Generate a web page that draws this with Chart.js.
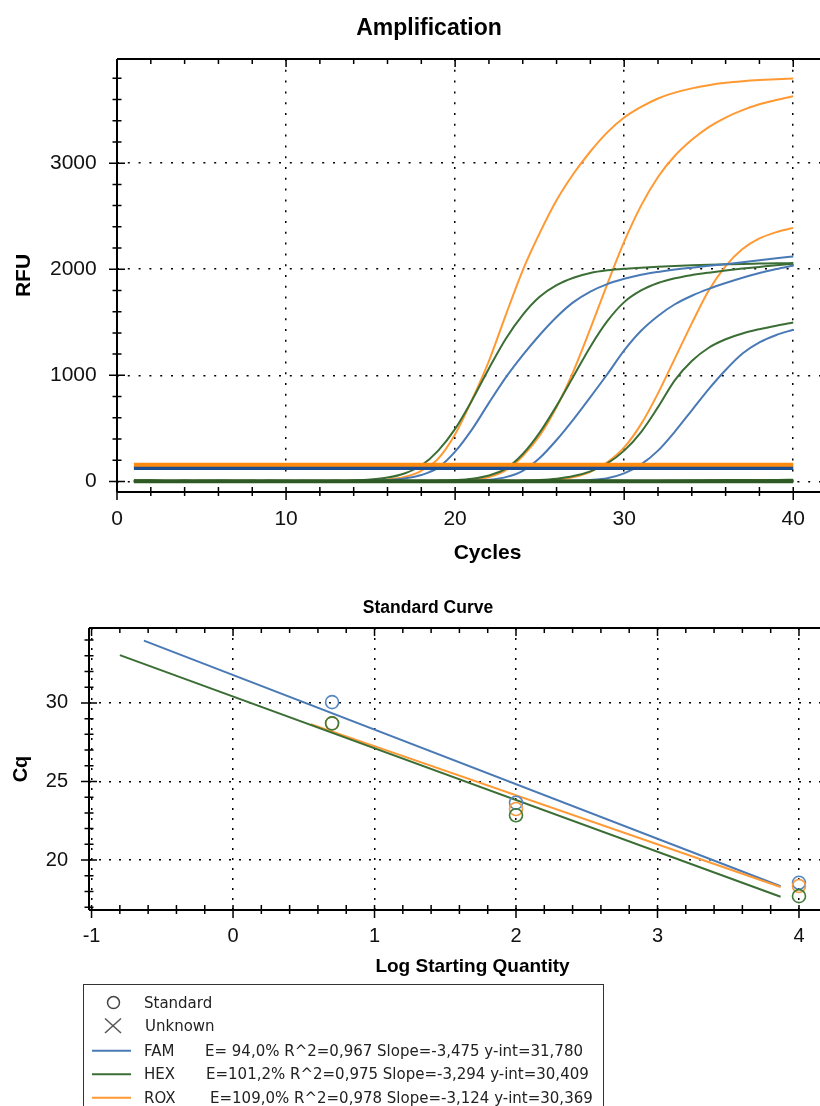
<!DOCTYPE html>
<html>
<head>
<meta charset="utf-8">
<title>Amplification / Standard Curve</title>
<script src="https://cdn.jsdelivr.net/npm/chart.js@4.4.0/dist/chart.umd.min.js"></script>
<style>
  html, body { margin: 0; padding: 0; background: #fff; overflow: hidden; }
  body { width: 820px; height: 1106px; position: relative; }
  #ampChart { position: absolute; left: 0; top: 0; }
  #stdChart { position: absolute; left: 0; top: 580px; }
  #legendBox { position: absolute; left: 83px; top: 984px; width: 521px; height: 150px;
               border: 1.5px solid #333; box-sizing: border-box; }
  .lg { position: absolute; font-family: "DejaVu Sans", Verdana, sans-serif; font-size: 15px;
        line-height: 20px; color: #222; white-space: nowrap; }
  #legendMarks { position: absolute; left: 0; top: 0; }
</style>
</head>
<body>
<canvas id="ampChart" width="858" height="580"></canvas>
<canvas id="stdChart" width="856" height="405"></canvas>

<div id="legendBox"></div>
<svg id="legendMarks" width="820" height="1106">
  <circle cx="113.5" cy="1002.6" r="6" fill="none" stroke="#444" stroke-width="1.5"/>
  <line x1="105" y1="1018.5" x2="121" y2="1033" stroke="#555" stroke-width="1.5"/>
  <line x1="121" y1="1018.5" x2="105" y2="1033" stroke="#555" stroke-width="1.5"/>
  <line x1="92" y1="1050.8" x2="131" y2="1050.8" stroke="#4a7ab5" stroke-width="2"/>
  <line x1="92" y1="1074.3" x2="131" y2="1074.3" stroke="#3b6e35" stroke-width="2"/>
  <line x1="92" y1="1097.8" x2="131" y2="1097.8" stroke="#ff9933" stroke-width="2"/>
</svg>
<span class="lg" style="left:144px; top:993px">Standard</span>
<span class="lg" style="left:145px; top:1016px">Unknown</span>
<span class="lg" style="left:144px; top:1041px">FAM</span>
<span class="lg" style="left:205px; top:1041px">E= 94,0% R^2=0,967 Slope=-3,475 y-int=31,780</span>
<span class="lg" style="left:144px; top:1064px">HEX</span>
<span class="lg" style="left:206px; top:1064px">E=101,2% R^2=0,975 Slope=-3,294 y-int=30,409</span>
<span class="lg" style="left:144px; top:1088px">ROX</span>
<span class="lg" style="left:210px; top:1088px">E=109,0% R^2=0,978 Slope=-3,124 y-int=30,369</span>

<script>
// ---- amplification data (RFU per cycle 1..40) ----
const cycles = Array.from({ length: 40 }, (_, i) => i + 1);

const rox1 = [6, 3, -2, 4, 1, -3, 2, 5, 0, -2, 3, 1, 2, 4, 8, 18, 42, 100, 215, 445,
  770, 1135, 1570, 1990, 2340, 2650, 2900, 3110, 3290, 3430, 3530, 3610, 3665, 3705, 3735, 3757, 3772, 3783, 3791, 3797];
const rox2 = [4, 1, -3, 2, 5, 0, -2, 3, 1, -1, 4, 2, 0, 3, 1, -2, 2, 4, 3, 7,
  16, 40, 105, 240, 430, 700, 1040, 1440, 1860, 2260, 2600, 2870, 3070, 3220, 3340, 3430, 3500, 3555, 3595, 3630];
const rox3 = [2, 5, 1, -2, 3, 0, 4, -1, 2, 3, -3, 1, 5, 2, 0, 3, -2, 1, 4, 2,
  0, 3, 5, 4, 7, 16, 40, 90, 180, 320, 540, 830, 1160, 1490, 1800, 2030, 2190, 2290, 2350, 2390];

const hex1 = [8, 5, 2, 6, 3, 0, 4, 7, 2, -1, 3, 5, 4, 8, 17, 36, 75, 150, 290, 495,
  765, 1065, 1345, 1570, 1740, 1850, 1920, 1965, 1990, 2005, 2015, 2024, 2031, 2037, 2042, 2046, 2050, 2053, 2056, 2058];
const hex2 = [5, 8, 3, 1, 6, 4, -1, 2, 5, 3, 0, 4, 6, 2, 3, 5, 1, 4, 7, 13,
  26, 56, 120, 258, 460, 712, 990, 1270, 1510, 1690, 1800, 1870, 1915, 1945, 1968, 1988, 2006, 2022, 2038, 2052];
const hex3 = [3, 6, 2, 4, 0, 5, 3, 1, 4, 6, 2, 3, -1, 4, 5, 2, 3, 6, 4, 1,
  3, 5, 4, 7, 13, 26, 50, 95, 170, 290, 465, 700, 955, 1135, 1260, 1340, 1395, 1435, 1468, 1497];

const fam1 = [2, -1, 3, 0, -3, 1, 4, 2, -2, 0, 3, 1, -1, 2, 6, 13, 28, 60, 130, 280,
  490, 740, 980, 1190, 1380, 1550, 1690, 1790, 1860, 1910, 1948, 1975, 1997, 2015, 2032, 2048, 2066, 2085, 2103, 2120];
const fam2 = [1, 3, -2, 0, 2, -1, 4, 1, -3, 2, 0, 3, 1, -2, 2, 0, 3, 1, 2, 3,
  6, 15, 40, 100, 220, 390, 585, 795, 1010, 1235, 1420, 1560, 1670, 1750, 1815, 1870, 1920, 1965, 2002, 2035];
const fam3 = [0, 2, -2, 3, 1, -1, 2, 0, 3, -2, 1, 2, 0, -1, 3, 1, 2, -2, 0, 3,
  1, 2, 0, 3, 2, 3, 6, 13, 30, 75, 160, 290, 470, 670, 870, 1050, 1205, 1310, 1380, 1430];

// no-template controls
const hexNtc = [6, 4, 2, 5, 3, 7, 4, 2, 5, 3, 6, 4, 2, 5, 3, 4, 6, 3, 2, 5,
  4, 3, 6, 4, 2, 5, 3, 4, 6, 5, 3, 4, 6, 8, 10, 12, 13, 14, 14, 15];
const famNtc = [-2, 0, 1, -1, 2, 0, -3, 1, 2, -1, 0, 1, -2, 0, 2, 1, -1, 0, 1, 2,
  0, -1, 1, 2, 0, 1, -1, 0, 2, 1, 0, 1, 2, 1, 0, 2, 1, 3, 2, 3];
const roxNtc = [3, 1, 4, 2, 0, 3, 5, 2, 1, 3, 4, 2, 0, 3, 2, 4, 1, 3, 2, 0,
  3, 4, 2, 1, 3, 2, 4, 3, 1, 2, 4, 3, 2, 3, 4, 2, 3, 5, 4, 3];

const roxThreshold = 158;
const famThreshold = 126;
const hexThreshold = 1;

const ampCycleLabels = [0, 10, 20, 30, 40];
const ampRfuLabels = [0, 1000, 2000, 3000];

// ---- standard curve data ----
const logQty = [0.7, 2, 4];
const famCq = [30.05, 23.65, 18.55];
const hexCq = [28.7, 22.85, 17.7];
const roxCq = [28.7, 23.25, 18.35];
const famFitX = [-0.63, 3.87];
const famFitY = [33.97, 18.33];
const hexFitX = [-0.8, 3.87];
const hexFitY = [33.04, 17.66];
const roxFitX = [0.55, 3.87];
const roxFitY = [28.65, 18.28];
const stdLogLabels = [-1, 0, 1, 2, 3, 4];
const stdCqLabels = [20, 25, 30];

const ORANGE = '#ff9933', BLUE = '#4a7ab5', GREEN = '#3b6e35';

Chart.defaults.font.family = '"Liberation Sans", Arial, sans-serif';
Chart.defaults.color = '#111';

const pts = (xs, ys) => xs.map((x, i) => ({ x: x, y: ys[i] }));
const flat = (y) => [{ x: cycles[0], y: y }, { x: cycles[cycles.length - 1], y: y }];

// axis lines + crossing tick marks, like the instrument software draws them
const axisFrame = {
  id: 'axisFrame',
  afterDraw(chart, args, opts) {
    const { ctx, chartArea: a } = chart;
    const xs = chart.scales.x, ys = chart.scales.y;
    ctx.save();
    ctx.strokeStyle = '#000';
    ctx.lineWidth = 2;
    ctx.beginPath();
    ctx.moveTo(a.left, a.top); ctx.lineTo(a.right, a.top);
    ctx.moveTo(a.left, a.top); ctx.lineTo(a.left, a.bottom);
    ctx.moveTo(a.left, a.bottom); ctx.lineTo(a.right, a.bottom);
    ctx.stroke();
    ctx.lineWidth = 1.5;
    ctx.beginPath();
    opts.xTicks.forEach(t => {
      const px = xs.getPixelForValue(t.v);
      ctx.moveTo(px, a.bottom - 5);
      ctx.lineTo(px, a.bottom + (t.major ? 8 : 4));
      ctx.moveTo(px, a.top);
      ctx.lineTo(px, a.top + (t.major ? 8 : 5));
    });
    opts.yTicks.forEach(t => {
      const py = ys.getPixelForValue(t.v);
      const len = t.major ? 8 : 4.5;
      ctx.moveTo(a.left - len, py);
      ctx.lineTo(a.left + len, py);
    });
    ctx.stroke();
    ctx.restore();
  }
};

const ampXTicks = [], ampYTicks = [], stdXTicks = [], stdYTicks = [];
for (let c = 0; c <= 42; c += 2) ampXTicks.push({ v: c, major: c % 10 === 0 });
for (let v = 0; v <= 3800; v += 200) ampYTicks.push({ v: v, major: v % 1000 === 0 });
for (let i = -5; i <= 22; i++) stdXTicks.push({ v: i / 5, major: i % 5 === 0 });
for (let v = 17; v <= 34; v++) stdYTicks.push({ v: v, major: v % 5 === 0 });

const dotted = { color: '#000', lineWidth: 1.5, drawTicks: false };

function curve(values, color) {
  return { data: pts(cycles, values), borderColor: color, borderWidth: 2, pointRadius: 0,
           cubicInterpolationMode: 'monotone', order: 2 };
}
function threshold(y, color) {
  return { data: flat(y), borderColor: color, borderWidth: 4, pointRadius: 0, order: 0 };
}

new Chart(document.getElementById('ampChart'), {
  type: 'line',
  data: {
    datasets: [
      threshold(roxThreshold, '#ff8a10'),
      threshold(famThreshold, '#1d4f90'),
      threshold(hexThreshold, '#2c5a22'),
      curve(famNtc, BLUE), curve(roxNtc, ORANGE), curve(hexNtc, GREEN),
      curve(fam1, BLUE), curve(fam2, BLUE), curve(fam3, BLUE),
      curve(hex1, GREEN), curve(hex2, GREEN), curve(hex3, GREEN),
      curve(rox1, ORANGE), curve(rox2, ORANGE), curve(rox3, ORANGE)
    ]
  },
  options: {
    responsive: false,
    animation: false,
    events: [],
    layout: { padding: 0, autoPadding: false },
    plugins: {
      legend: { display: false },
      tooltip: { enabled: false },
      title: { display: true, text: 'Amplification', color: '#000',
               font: { size: 23, weight: 'bold' }, padding: { top: 14.9, bottom: 16.5 } },
      axisFrame: { xTicks: ampXTicks, yTicks: ampYTicks }
    },
    scales: {
      x: {
        type: 'linear', min: 0, max: 43.83,
        afterBuildTicks: s => { s.ticks = ampCycleLabels.map(v => ({ value: v })); },
        afterFit: s => { s.height = 88; },
        grid: dotted,
        border: { display: false, dash: [2, 8.8] },
        ticks: { autoSkip: false, maxRotation: 0, padding: 14.9, font: { size: 21 }, callback: v => String(v) },
        title: { display: true, text: 'Cycles', color: '#000', font: { size: 21, weight: 'bold' },
                 padding: { top: 0, bottom: 14.5 } }
      },
      y: {
        type: 'linear', min: -100, max: 3982,
        afterBuildTicks: s => { s.ticks = ampRfuLabels.map(v => ({ value: v })); },
        afterFit: s => { s.width = 117; },
        grid: dotted,
        border: { display: false, dash: [2, 8.8] },
        ticks: { autoSkip: false, padding: 20.3, font: { size: 21 }, callback: v => String(v) },
        title: { display: true, text: 'RFU', color: '#000', font: { size: 21, weight: 'bold' },
                 padding: { top: 11.2, bottom: 0 } }
      }
    }
  },
  plugins: [axisFrame]
});

function fitLine(xs, ys, color, order) {
  return { data: pts(xs, ys), showLine: true, borderColor: color, borderWidth: 2,
           pointRadius: 0, order: order };
}
function stdPoints(ys, color, order) {
  return { data: pts(logQty, ys), showLine: false, pointStyle: 'circle', pointRadius: 6.5,
           borderColor: color, backgroundColor: 'rgba(0,0,0,0)', pointBorderWidth: 1.6, order: order };
}

new Chart(document.getElementById('stdChart'), {
  type: 'scatter',
  data: {
    datasets: [
      stdPoints(hexCq, '#3f7a38', 0),
      stdPoints(roxCq, '#f59a3e', 1),
      stdPoints(famCq, '#5585c2', 1),
      fitLine(hexFitX, hexFitY, GREEN, 2),
      fitLine(roxFitX, roxFitY, ORANGE, 3),
      fitLine(famFitX, famFitY, BLUE, 3)
    ]
  },
  options: {
    responsive: false,
    animation: false,
    events: [],
    layout: { padding: 0, autoPadding: false },
    plugins: {
      legend: { display: false },
      tooltip: { enabled: false },
      title: { display: true, text: 'Standard Curve', color: '#000',
               font: { size: 17.5, weight: 'bold' }, padding: { top: 18.1, bottom: 8.9 } },
      axisFrame: { xTicks: stdXTicks, yTicks: stdYTicks }
    },
    scales: {
      x: {
        type: 'linear', min: -1.018, max: 4.403,
        afterBuildTicks: s => { s.ticks = stdLogLabels.map(v => ({ value: v })); },
        afterFit: s => { s.height = 75; },
        grid: dotted,
        border: { display: false, dash: [2, 8] },
        ticks: { autoSkip: false, maxRotation: 0, padding: 14, font: { size: 20 }, callback: v => String(v) },
        title: { display: true, text: 'Log Starting Quantity', color: '#000', font: { size: 19, weight: 'bold' },
                 padding: { top: 0, bottom: 6.6 } }
      },
      y: {
        type: 'linear', min: 16.82, max: 34.77,
        afterBuildTicks: s => { s.ticks = stdCqLabels.map(v => ({ value: v })); },
        afterFit: s => { s.width = 89; },
        grid: dotted,
        border: { display: false, dash: [2, 8] },
        ticks: { autoSkip: false, padding: 21, font: { size: 20 }, callback: v => String(v) },
        title: { display: true, text: 'Cq', color: '#000', font: { size: 20, weight: 'bold' },
                 padding: { top: 9.6, bottom: 0 } }
      }
    }
  },
  plugins: [axisFrame]
});
</script>
</body>
</html>
